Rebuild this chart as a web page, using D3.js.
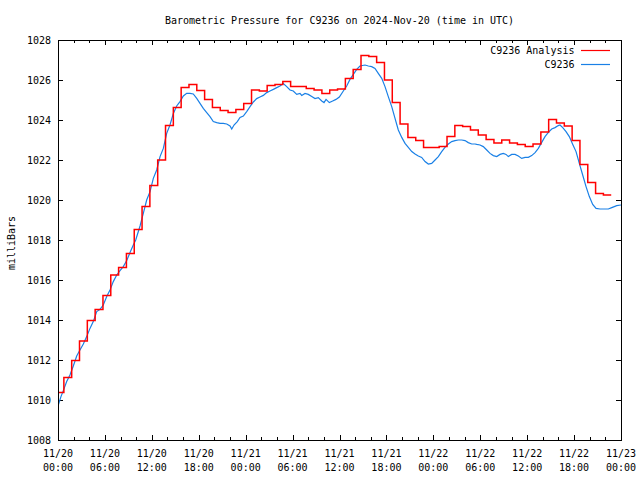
<!DOCTYPE html>
<html>
<head>
<meta charset="utf-8">
<script src="https://cdn.jsdelivr.net/npm/d3@7/dist/d3.min.js"></script>
<style>
  html, body { margin: 0; padding: 0; background: #fff; }
  svg { display: block; }
  text { font-family: "DejaVu Sans Mono", "Liberation Mono", monospace; font-size: 10px; fill: #000; }
</style>
</head>
<body>
<svg id="chart" width="640" height="480"></svg>
<script>
// ---------------- DATA ----------------
const titleText = "Barometric Pressure for C9236 on 2024-Nov-20 (time in UTC)";
const yLabelText = "milliBars";
const seriesNames = ["C9236 Analysis", "C9236"];

const yTicks = [1008, 1010, 1012, 1014, 1016, 1018, 1020, 1022, 1024, 1026, 1028];
const xMajorHours = [0, 6, 12, 18, 24, 30, 36, 42, 48, 54, 60, 66, 72];
const xTickDates = ["11/20", "11/20", "11/20", "11/20", "11/21", "11/21", "11/21", "11/21", "11/22", "11/22", "11/22", "11/22", "11/23"];
const xTickTimes = ["00:00", "06:00", "12:00", "18:00", "00:00", "06:00", "12:00", "18:00", "00:00", "06:00", "12:00", "18:00", "00:00"];

// Analysis (hourly steps, each valid from hh:45 of the previous hour)
const analysisFirstHour = -0.25;
const analysisValues = [
  1010.38, 1011.13, 1011.98, 1012.95, 1013.98, 1014.53, 1015.23, 1016.25, 1016.63, 1017.33,
  1018.53, 1019.68, 1020.73, 1022.00, 1023.73, 1024.63, 1025.63, 1025.77, 1025.47, 1025.03,
  1024.63, 1024.47, 1024.38, 1024.53, 1024.83, 1025.50, 1025.45, 1025.73, 1025.78, 1025.93,
  1025.68, 1025.68, 1025.58, 1025.50, 1025.33, 1025.50, 1025.55, 1026.08, 1026.53, 1027.23,
  1027.17, 1026.88, 1026.00, 1024.88, 1023.80, 1023.13, 1022.97, 1022.63, 1022.63, 1022.67,
  1023.18, 1023.73, 1023.68, 1023.50, 1023.25, 1023.02, 1022.85, 1023.00, 1022.85, 1022.78,
  1022.68, 1022.80, 1023.40, 1024.02, 1023.85, 1023.70, 1022.98, 1021.78, 1020.88, 1020.33,
  1020.25
];

// Station observations (hours since 11/20 00:00 UTC, mb)
const stationHours = [
  0.00, 0.38, 0.68, 1.11, 1.53, 1.96, 2.39, 2.81, 3.24, 3.67, 4.09, 4.51, 4.95, 5.37, 5.79,
  6.23, 6.65, 7.07, 7.51, 7.93, 8.35, 8.79, 9.21, 9.63, 9.94, 10.49, 10.91, 11.34, 11.77,
  12.19, 12.62, 13.05, 13.47, 13.90, 14.32, 14.75, 15.18, 15.60, 16.03, 16.46, 16.88, 17.30,
  17.74, 18.16, 18.58, 19.02, 19.44, 19.86, 20.30, 20.72, 21.14, 21.58, 22.00, 22.22, 22.51,
  22.93, 23.28, 23.70, 24.13, 24.56, 24.98, 25.41, 25.83, 26.26, 26.69, 27.11, 27.54, 27.97,
  28.39, 28.81, 29.25, 29.67, 30.09, 30.53, 30.95, 31.17, 31.59, 32.01, 32.45, 32.87, 33.29,
  33.73, 34.02, 34.28, 34.70, 35.13, 35.55, 35.98, 36.49, 36.92, 37.34, 37.77, 38.20, 38.62,
  39.26, 39.69, 40.12, 40.54, 40.96, 41.40, 41.82, 42.24, 42.68, 43.10, 43.52, 43.96, 44.38,
  44.80, 45.24, 45.66, 46.08, 46.51, 46.94, 47.36, 47.79, 48.22, 48.64, 49.07, 49.49, 49.92,
  50.35, 50.77, 51.20, 51.63, 52.05, 52.47, 52.91, 53.33, 53.55, 53.97, 54.39, 54.83, 55.25,
  55.67, 56.11, 56.53, 56.95, 57.30, 57.59, 58.02, 58.45, 58.87, 59.30, 59.73, 60.15, 60.58,
  61.01, 61.43, 61.86, 62.28, 62.71, 63.14, 63.56, 63.98, 64.20, 64.55, 64.97, 65.39, 65.83,
  66.25, 66.67, 67.10, 67.53, 67.95, 68.38, 68.81, 69.32, 69.96, 70.38, 70.82, 71.45, 72.00
];
const stationValues = [
  1009.70, 1010.17, 1010.47, 1010.92, 1011.25, 1011.70, 1012.20, 1012.50, 1012.80, 1013.17, 1013.58, 1013.92, 1014.42, 1014.53, 1014.75,
  1015.17, 1015.50, 1015.92, 1016.25, 1016.47, 1016.67, 1016.97, 1017.37, 1017.75, 1018.00, 1018.70, 1019.33, 1020.00, 1020.42,
  1021.08, 1021.50, 1022.17, 1022.58, 1023.33, 1023.75, 1024.33, 1024.70, 1024.92, 1025.20, 1025.33, 1025.33, 1025.30,
  1025.08, 1024.83, 1024.58, 1024.37, 1024.17, 1023.92, 1023.87, 1023.83, 1023.83, 1023.80, 1023.70, 1023.55, 1023.75,
  1023.92, 1024.13, 1024.20, 1024.42, 1024.67, 1024.90, 1025.07, 1025.15, 1025.23, 1025.37, 1025.45, 1025.53, 1025.62,
  1025.70, 1025.82, 1025.67, 1025.50, 1025.45, 1025.28, 1025.33, 1025.23, 1025.33, 1025.28, 1025.17, 1025.07, 1025.12,
  1024.95, 1024.87, 1025.03, 1024.87, 1024.95, 1025.03, 1025.15, 1025.45, 1025.70, 1026.03, 1026.28, 1026.53, 1026.70,
  1026.75, 1026.70, 1026.67, 1026.58, 1026.33, 1026.08, 1025.67, 1025.17, 1024.67, 1024.08, 1023.50, 1023.13, 1022.83,
  1022.63, 1022.42, 1022.30, 1022.20, 1022.13, 1021.92, 1021.80, 1021.83, 1022.00, 1022.17, 1022.42, 1022.63, 1022.80,
  1022.92, 1022.97, 1023.00, 1023.00, 1022.97, 1022.87, 1022.80, 1022.80, 1022.78, 1022.75, 1022.67, 1022.50, 1022.33,
  1022.22, 1022.17, 1022.28, 1022.33, 1022.28, 1022.17, 1022.28, 1022.28, 1022.20, 1022.08, 1022.13, 1022.13, 1022.22,
  1022.37, 1022.58, 1022.88, 1023.17, 1023.38, 1023.55, 1023.62, 1023.72, 1023.75, 1023.62, 1023.42, 1023.17, 1022.78,
  1022.42, 1021.83, 1021.25, 1020.67, 1020.17, 1019.78, 1019.58, 1019.55, 1019.55, 1019.55, 1019.62, 1019.72, 1019.75
];

// ---------------- CHART ----------------
const W = 640, H = 480;
const plot = { left: 58, top: 40, right: 621, bottom: 440 };
const colors = { analysis: "#ff0000", station: "#1a80e6" };

const svg = d3.select("#chart");
const x = d3.scaleLinear().domain([0, 72]).range([plot.left, plot.right]);
const y = d3.scaleLinear().domain([1008, 1028]).range([plot.bottom, plot.top]);

svg.append("defs").append("clipPath").attr("id", "clip")
  .append("rect")
  .attr("x", plot.left).attr("y", plot.top)
  .attr("width", plot.right - plot.left).attr("height", plot.bottom - plot.top);

// minor ticks every 2 hours
const xMinor = d3.range(0, 73, 2).filter(h => h % 6 !== 0);

function tickAxis(axisFn, scale, values, size, translate) {
  const g = svg.append("g")
    .attr("transform", translate)
    .call(axisFn(scale).tickValues(values).tickSize(size).tickFormat(""));
  g.select(".domain").remove();
  g.selectAll("line").attr("stroke", "#000").attr("shape-rendering", "crispEdges");
  return g;
}
// bottom (inward ticks)
tickAxis(d3.axisBottom, x, xMajorHours, -5, `translate(0,${plot.bottom})`);
tickAxis(d3.axisBottom, x, xMinor, -3, `translate(0,${plot.bottom})`);
// top (mirror)
tickAxis(d3.axisTop, x, xMajorHours, -5, `translate(0,${plot.top})`);
tickAxis(d3.axisTop, x, xMinor, -3, `translate(0,${plot.top})`);
// left / right
tickAxis(d3.axisLeft, y, yTicks, -5, `translate(${plot.left},0)`);
tickAxis(d3.axisRight, y, yTicks, -5, `translate(${plot.right},0)`);

// y tick labels
svg.append("g").selectAll("text").data(yTicks).join("text")
  .attr("x", plot.left - 7)
  .attr("y", d => y(d) + 3.5)
  .attr("text-anchor", "end")
  .text(d => d);

// x tick labels (two lines)
const xl = svg.append("g").selectAll("text").data(xMajorHours).join("text")
  .attr("text-anchor", "middle");
xl.append("tspan").attr("x", d => x(d)).attr("y", 456.5).text((d, i) => xTickDates[i]);
xl.append("tspan").attr("x", d => x(d)).attr("y", 470.5).text((d, i) => xTickTimes[i]);

// title
svg.append("text")
  .attr("x", (plot.left + plot.right) / 2)
  .attr("y", 23.5)
  .attr("text-anchor", "middle")
  .text(titleText);

// y label
svg.append("text")
  .attr("transform", `translate(14.5,${(plot.top + plot.bottom) / 2 + 3}) rotate(-90)`)
  .attr("text-anchor", "middle")
  .text(yLabelText);

// series
const lines = svg.append("g").attr("clip-path", "url(#clip)");

const analysisPts = analysisValues.map((v, i) => [analysisFirstHour + i, v]);
analysisPts.push([analysisFirstHour + analysisValues.length, analysisValues[analysisValues.length - 1]]);

const stationPts = stationHours.map((h, i) => [h, stationValues[i]]);

lines.append("path")
  .datum(stationPts)
  .attr("fill", "none")
  .attr("stroke", colors.station)
  .attr("stroke-width", 1.2)
  .attr("d", d3.line().x(d => x(d[0])).y(d => y(d[1])));

lines.append("path")
  .datum(analysisPts)
  .attr("fill", "none")
  .attr("stroke", colors.analysis)
  .attr("stroke-width", 1.5)
  .attr("d", d3.line().curve(d3.curveStepAfter).x(d => x(d[0])).y(d => y(d[1])));

// legend
const legend = svg.append("g");
const legendItems = [
  { name: seriesNames[0], color: colors.analysis, y: 50 },
  { name: seriesNames[1], color: colors.station, y: 64 }
];
legendItems.forEach(it => {
  legend.append("text")
    .attr("x", 574.5).attr("y", it.y + 3.5)
    .attr("text-anchor", "end")
    .text(it.name);
  legend.append("line")
    .attr("x1", 581).attr("x2", 610)
    .attr("y1", it.y + 0.5).attr("y2", it.y + 0.5)
    .attr("stroke", it.color).attr("stroke-width", 1.2);
});

// border
svg.append("rect")
  .attr("x", plot.left + 0.5).attr("y", plot.top + 0.5)
  .attr("width", plot.right - plot.left).attr("height", plot.bottom - plot.top)
  .attr("fill", "none").attr("stroke", "#000").attr("stroke-width", 1)
  .attr("shape-rendering", "crispEdges");
</script>
</body>
</html>
